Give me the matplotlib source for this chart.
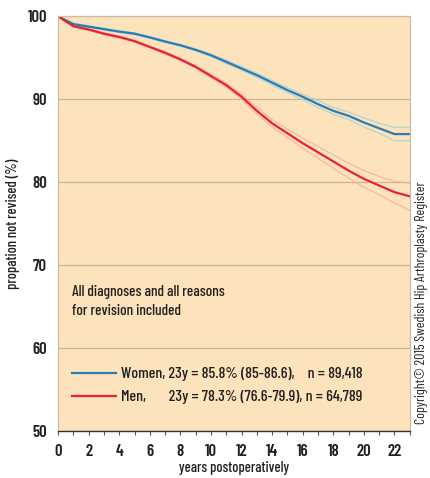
import matplotlib
matplotlib.use("Agg")
import matplotlib.pyplot as plt
from matplotlib import font_manager

# pick a condensed face, the original uses a Futura-condensed style
installed = set(f.name for f in font_manager.fontManager.ttflist)
wanted = ['Barlow Condensed', 'Barlow Semi Condensed', 'Roboto Condensed',
          'Archivo Narrow', 'PT Sans Narrow', 'Liberation Sans Narrow']
face = [f for f in wanted if f in installed][:1]
plt.rcParams['font.family'] = face + ['DejaVu Sans']

# years after operation
years = list(range(0, 24))

# women: estimate + confidence band
women = [100, 99.05, 98.75, 98.45, 98.15, 97.9, 97.45, 96.95, 96.5, 95.95, 95.3, 94.5,
         93.7, 92.9, 92.0, 91.1, 90.3, 89.4, 88.6, 88.0, 87.2, 86.5, 85.8, 85.8]
women_hi = [100, 99.15, 98.85, 98.55, 98.25, 98.0, 97.55, 97.05, 96.6, 96.05, 95.45, 94.7,
            93.9, 93.15, 92.25, 91.4, 90.6, 89.8, 89.0, 88.45, 87.75, 87.1, 86.6, 86.6]
women_lo = [100, 98.95, 98.65, 98.35, 98.05, 97.8, 97.35, 96.85, 96.4, 95.85, 95.15, 94.3,
            93.5, 92.65, 91.75, 90.8, 89.95, 89.0, 88.2, 87.55, 86.65, 85.9, 85.0, 85.0]

# men
men = [100, 98.8, 98.4, 97.9, 97.5, 97.0, 96.3, 95.6, 94.8, 93.9, 92.8, 91.7,
       90.3, 88.6, 87.1, 85.9, 84.7, 83.6, 82.5, 81.4, 80.4, 79.6, 78.8, 78.3]
men_hi = [100, 98.9, 98.5, 98.0, 97.6, 97.1, 96.4, 95.75, 94.95, 94.05, 93.0, 91.95,
          90.6, 89.0, 87.55, 86.4, 85.3, 84.3, 83.3, 82.3, 81.4, 80.7, 80.1, 79.9]
men_lo = [100, 98.7, 98.3, 97.8, 97.4, 96.9, 96.2, 95.45, 94.65, 93.75, 92.6, 91.45,
          90.0, 88.2, 86.65, 85.4, 84.1, 82.9, 81.7, 80.5, 79.4, 78.5, 77.5, 76.6]

women_label = "Women, 23y = 85.8% (85-86.6),    n = 89,418"
men_label = "Men,       23y = 78.3% (76.6-79.9), n = 64,789"

blue = '#2a7bb8'
red = '#e8232f'
txt = '#231f20'

fig = plt.figure(figsize=(4.3, 4.78), dpi=100)
ax = fig.add_axes([0.135, 0.098, 0.818, 0.868])
ax.set_facecolor('#fce3bc')

ax.plot(years, women_hi, color='#a8d3d0', lw=1.0, alpha=0.8)
ax.plot(years, women_lo, color='#a8d3d0', lw=1.0, alpha=0.8)
ax.plot(years, men_hi, color='#f6b2a6', lw=1.0, alpha=0.8)
ax.plot(years, men_lo, color='#f6b2a6', lw=1.0, alpha=0.8)
ax.plot(years, women, color=blue, lw=1.6, label=women_label)
ax.plot(years, men, color=red, lw=1.6, label=men_label)

ax.set_xlim(0, 23)
ax.set_ylim(50, 100)
ax.set_xticks(range(0, 23, 2))
ax.set_xticks(range(0, 24), minor=True)
ax.set_yticks([50, 60, 70, 80, 90, 100])
ax.tick_params(axis='x', which='both', direction='out', length=3, width=0.8,
               color='#555555', labelsize=12, labelcolor=txt, pad=6)
ax.tick_params(axis='y', length=0, labelsize=12, labelcolor=txt, pad=8)
for lab in ax.get_xticklabels() + ax.get_yticklabels():
    lab.set_fontweight('semibold')

ax.grid(axis='y', color='#c9b59c', lw=0.9)
ax.set_axisbelow(True)
for s in ['top', 'left', 'right']:
    ax.spines[s].set_color('#c8bcb0')
    ax.spines[s].set_linewidth(0.9)
ax.spines['bottom'].set_color('#333333')
ax.spines['bottom'].set_linewidth(1.0)

ax.set_xlabel('years postoperatively', fontsize=10.5, fontweight='medium',
              color=txt, labelpad=2)
ax.set_ylabel('propation not revised (%)', fontsize=10.5, fontweight='medium',
              color=txt, labelpad=5)

ax.text(0.04, 0.352, 'All diagnoses and all reasons\nfor revision included',
        transform=ax.transAxes, fontsize=11, fontweight='medium', color=txt,
        va='top', linespacing=1.4)

leg = ax.legend(loc='lower left', bbox_to_anchor=(0.0, 0.03), frameon=False,
                fontsize=11.5, handlelength=2.7, handletextpad=0.35, labelspacing=0.55,
                labelcolor=txt)
for t in leg.get_texts():
    t.set_fontweight('medium')

fig.text(0.981, 0.366, 'Copyright\u00a9 2015 Swedish Hip Arthroplasty Register',
         rotation=90, fontsize=10, color=txt, ha='center', va='center')

fig.savefig('out.png', dpi=100)
